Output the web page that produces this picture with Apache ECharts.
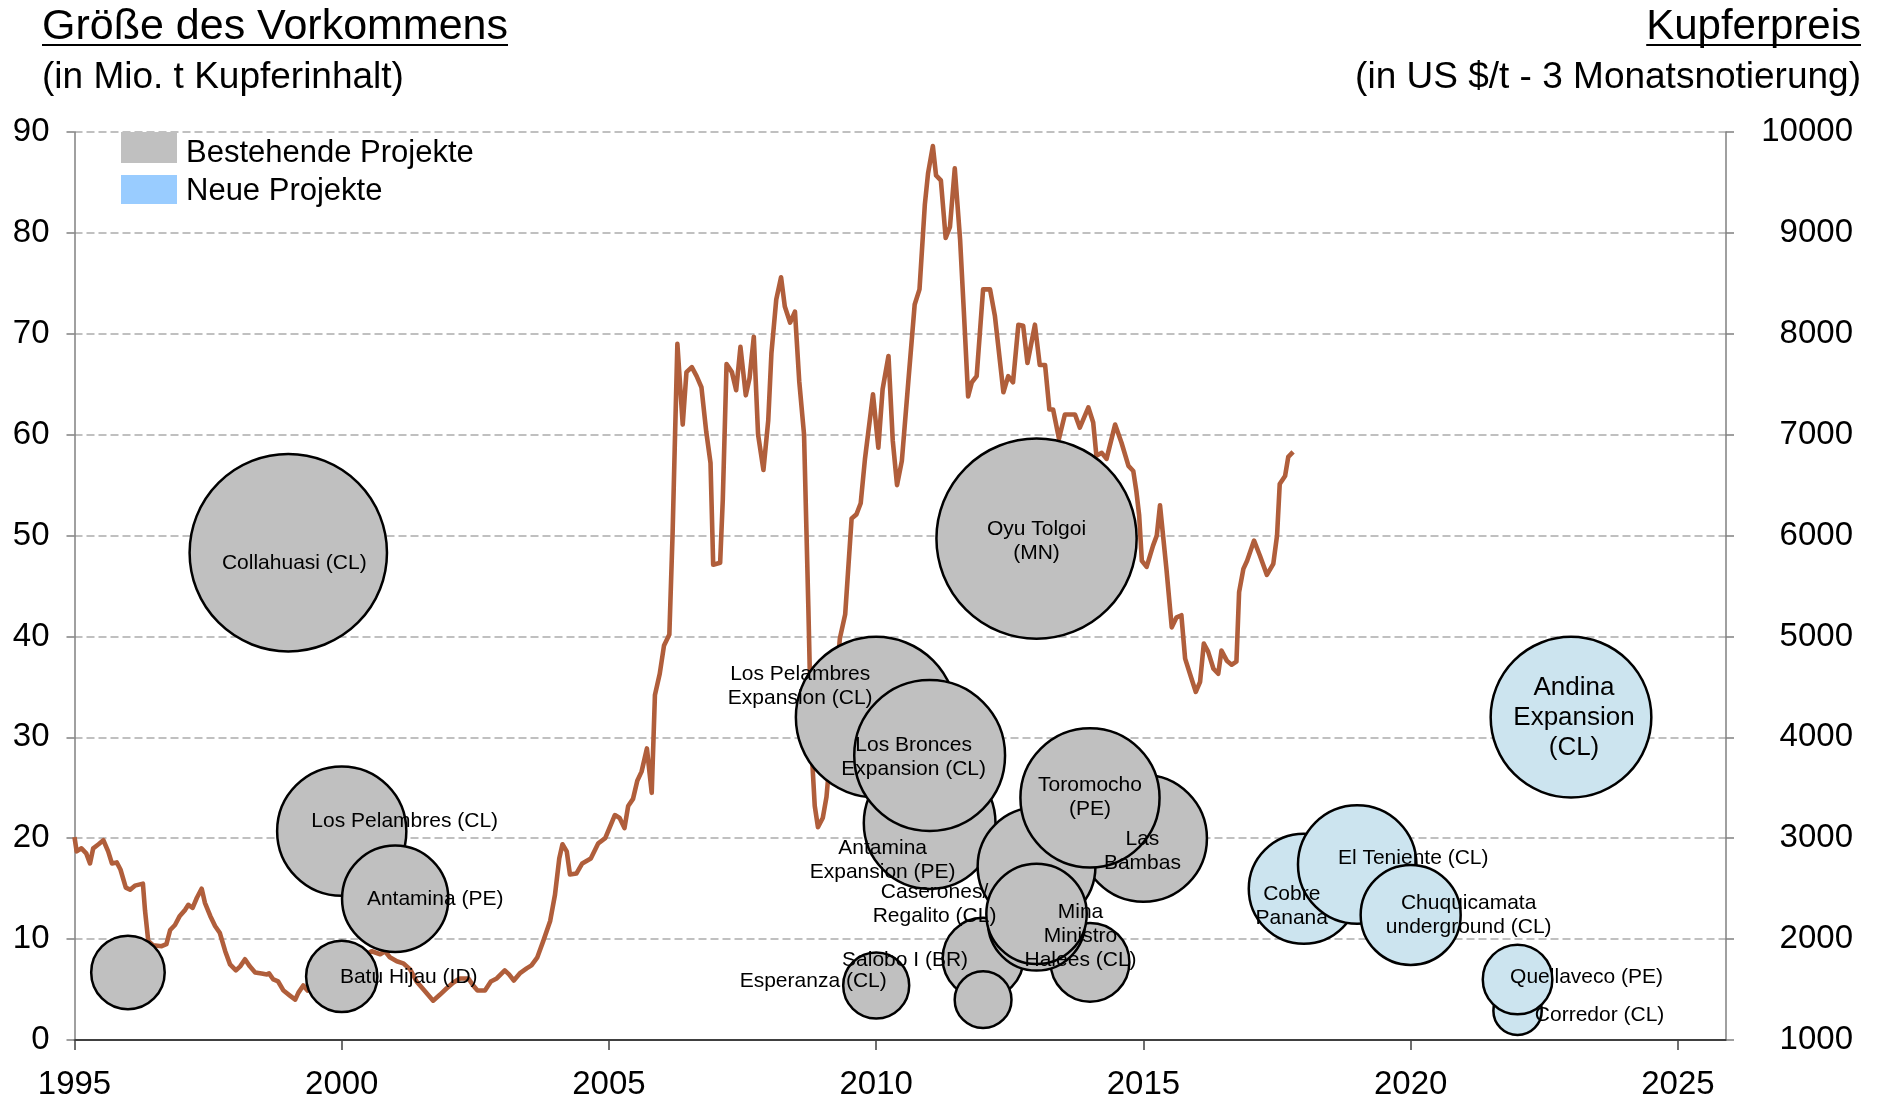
<!DOCTYPE html>
<html>
<head>
<meta charset="utf-8">
<script src="https://cdn.jsdelivr.net/npm/echarts@6/dist/echarts.min.js"></script>
<style>
  html, body { margin: 0; padding: 0; background: #fff; }
  #chart { width: 1883px; height: 1101px; }
</style>
</head>
<body>
<div id="chart"></div>
<script>
// axis ticks
const xTicks = [1995, 2000, 2005, 2010, 2015, 2020, 2025];

// existing projects: name, start year, deposit size (Mio. t Cu)
const existingNames = ['', 'Collahuasi (CL)', 'Oyu Tolgoi\n(MN)', 'Los Pelambres (CL)', 'Antamina (PE)',
  'Batu Hijau (ID)', 'Antamina\nExpansion (PE)', 'Los Pelambres\nExpansion (CL)', 'Los Bronces\nExpansion (CL)',
  'Las\nBambas', 'Caserones/\nRegalito (CL)', 'Toromocho\n(PE)', 'Esperanza (CL)', 'Salobo I (BR)', '', '', '',
  'Mina\nMinistro\nHalees (CL)'];
const existingYears = [1996, 1999, 2013, 2000, 2001, 2000, 2011, 2010, 2011, 2015, 2013, 2014, 2010, 2012, 2012, 2014, 2013, 2013];
const existingSizes = [6.7, 48.3, 49.7, 20.7, 14.0, 6.3, 21.5, 32.0, 28.2, 20.0, 17.2, 24.0, 5.4, 8.1, 4.0, 7.7, 11.7, 12.5];

// new projects
const newNames = ['Cobre\nPanana', 'El Teniente (CL)', 'Chuquicamata\nunderground (CL)', 'Andina\nExpansion\n(CL)',
  'Corredor (CL)', 'Quellaveco (PE)'];
const newYears = [2018, 2019, 2020, 2023, 2022, 2022];
const newSizes = [15.0, 17.4, 12.4, 32.0, 2.9, 6.0];

const legendNames = ['Bestehende Projekte', 'Neue Projekte'];

// copper price, US$/t (3-month), [year, price]
const copperPrice = [
  [1995.00,3010],[1995.04,2870],[1995.13,2900],[1995.22,2850],[1995.29,2750],[1995.35,2900],[1995.45,2940],[1995.54,2980],[1995.63,2870],[1995.70,2750],[1995.79,2760],[1995.86,2690],[1995.96,2510],
  [1996.04,2490],[1996.13,2530],[1996.28,2550],[1996.32,2280],[1996.38,1980],[1996.47,1940],[1996.63,1930],[1996.72,1950],[1996.79,2090],[1996.88,2140],[1996.97,2230],
  [1997.07,2290],[1997.13,2340],[1997.21,2310],[1997.29,2410],[1997.38,2500],[1997.44,2360],[1997.54,2230],[1997.63,2130],[1997.72,2060],[1997.82,1880],[1997.91,1750],
  [1998.02,1690],[1998.10,1730],[1998.19,1800],[1998.28,1730],[1998.38,1670],[1998.50,1660],[1998.60,1650],[1998.64,1660],[1998.72,1600],[1998.81,1580],[1998.91,1490],
  [1999.03,1440],[1999.13,1400],[1999.19,1470],[1999.28,1540],[1999.36,1490],[1999.55,1620],[1999.80,1780],
  [2000.05,1850],[2000.30,1800],[2000.56,1880],[2000.72,1850],[2000.81,1880],[2000.90,1820],
  [2001.03,1780],[2001.15,1760],[2001.28,1700],[2001.40,1580],[2001.53,1500],[2001.71,1390],[2001.84,1450],[2001.96,1510],
  [2002.09,1570],[2002.21,1610],[2002.37,1610],[2002.46,1540],[2002.54,1490],[2002.68,1490],[2002.79,1580],[2002.90,1610],
  [2003.05,1690],[2003.13,1650],[2003.22,1590],[2003.33,1660],[2003.46,1710],[2003.55,1740],[2003.66,1820],[2003.77,1980],[2003.90,2180],[2003.99,2440],
  [2004.07,2800],[2004.13,2940],[2004.21,2870],[2004.27,2640],[2004.39,2650],[2004.50,2750],[2004.66,2800],[2004.80,2950],[2004.93,3000],
  [2005.11,3230],[2005.20,3200],[2005.29,3100],[2005.36,3320],[2005.45,3390],[2005.53,3570],[2005.61,3660],[2005.71,3890],[2005.80,3450],[2005.86,4420],[2005.95,4630],
  [2006.03,4910],[2006.13,5020],[2006.19,6010],[2006.23,6860],[2006.28,7900],[2006.38,7100],[2006.45,7620],[2006.55,7670],[2006.64,7580],[2006.73,7470],[2006.82,7030],[2006.90,6720],[2006.95,5710],
  [2007.08,5730],[2007.13,6360],[2007.20,7700],[2007.30,7620],[2007.38,7440],[2007.46,7870],[2007.56,7390],[2007.63,7560],[2007.71,7970],[2007.79,7000],[2007.89,6650],[2007.98,7140],
  [2008.04,7810],[2008.13,8340],[2008.22,8560],[2008.29,8270],[2008.39,8110],[2008.48,8220],[2008.56,7530],[2008.65,7000],[2008.73,5300],[2008.79,3890],[2008.85,3320],[2008.91,3110],
  [2009.00,3200],[2009.07,3410],[2009.20,4200],[2009.32,4980],[2009.42,5220],[2009.54,6170],[2009.63,6210],[2009.71,6320],[2009.79,6760],[2009.94,7400],
  [2010.04,6870],[2010.12,7450],[2010.23,7780],[2010.31,6940],[2010.39,6500],[2010.48,6740],[2010.60,7520],[2010.72,8290],[2010.81,8440],[2010.91,9280],[2010.97,9590],
  [2011.06,9860],[2011.12,9570],[2011.21,9520],[2011.30,8950],[2011.38,9060],[2011.47,9640],[2011.57,8930],[2011.64,8220],[2011.72,7380],[2011.79,7520],[2011.88,7580],
  [2012.00,8440],[2012.13,8440],[2012.22,8180],[2012.38,7420],[2012.47,7580],[2012.56,7520],[2012.66,8090],[2012.75,8080],[2012.83,7710],[2012.97,8090],
  [2013.06,7690],[2013.16,7690],[2013.24,7250],[2013.31,7250],[2013.42,6960],[2013.53,7200],[2013.72,7200],[2013.81,7070],[2013.97,7270],
  [2014.06,7120],[2014.12,6790],[2014.22,6820],[2014.31,6760],[2014.47,7100],[2014.59,6920],[2014.72,6690],[2014.81,6640],[2014.87,6430],[2014.92,6200],[2014.97,5750],
  [2015.06,5690],[2015.18,5900],[2015.25,6000],[2015.31,6300],[2015.43,5670],[2015.53,5090],[2015.62,5190],[2015.71,5210],[2015.78,4780],[2015.90,4580],[2015.98,4450],
  [2016.06,4550],[2016.13,4930],[2016.21,4850],[2016.31,4680],[2016.40,4630],[2016.46,4860],[2016.56,4760],[2016.65,4720],[2016.74,4750],[2016.79,5440],[2016.87,5670],[2016.94,5750],
  [2017.07,5950],[2017.18,5800],[2017.31,5610],[2017.43,5720],[2017.50,6000],[2017.55,6510],[2017.65,6590],[2017.71,6780],[2017.80,6830]
];

// label placement (px offsets from bubble centre) and label font sizes
const existingLabelOffsets = [[0,0],[6,10],[0,3],[63,-10],[40,0],[67,1],[-47,37],[-76,-31],[-16,2],
  [-1,13],[-102,38],[0,-1],[-63,-4],[-78,2],[0,0],[0,0],[0,0],[44,22]];
const newLabelOffsets = [[-12,18],[56,-6],[58,0],[3,1],[82,4],[69,-2]];
const newLabelSizes = [21, 21, 21, 26, 21, 21];

const FONT = '"Liberation Sans", Arial, sans-serif';
const SIZE_K = 28.4; // bubble diameter per sqrt(Mio. t)
const GRAY = '#C0C0C0';
const BLUE_BUBBLE = '#CCE4EF';
const BLUE_LEGEND = '#99CCFF';

function bubbles(names, years, sizes, offsets, fontSizes) {
  return names.map((n, i) => {
    const fs = fontSizes ? fontSizes[i] : 21;
    return {
      name: n,
      value: [years[i], sizes[i]],
      label: { show: n !== '', offset: offsets[i], fontSize: fs, lineHeight: Math.round(fs * 1.15) }
    };
  });
}

function textWidth(str, size) {
  const c = document.createElement('canvas').getContext('2d');
  c.font = size + 'px ' + FONT;
  return c.measureText(str).width;
}

const chart = echarts.init(document.getElementById('chart'));

const titleL = 'Größe des Vorkommens';
const titleR = 'Kupferpreis';
const wL = textWidth(titleL, 43);
const wR = textWidth(titleR, 42);

const axisFont = { fontSize: 33, fontFamily: FONT, color: '#000' };

const option = {
  animation: false,
  grid: { left: 74.5, right: 157, top: 132, bottom: 58.6 },
  xAxis: {
    type: 'value', min: 1995, max: 2025.9, interval: 5,
    axisLine: { show: true, onZero: false, lineStyle: { color: '#404040', width: 2 } },
    axisTick: { show: true, length: 10, customValues: xTicks, lineStyle: { color: '#404040', width: 1.5 } },
    axisLabel: Object.assign({ margin: 28, customValues: xTicks,
      formatter: v => (v % 5 === 0 ? String(v) : '') }, axisFont),
    splitLine: { show: false }
  },
  yAxis: [
    {
      type: 'value', min: 0, max: 90, interval: 10, position: 'left',
      axisLine: { show: true, onZero: false, lineStyle: { color: '#808080', width: 1.5 } },
      axisTick: { show: true, length: 8, lineStyle: { color: '#808080', width: 1.5 } },
      axisLabel: Object.assign({ margin: 25 }, axisFont),
      splitLine: { show: true, lineStyle: { color: GRAY, width: 2, type: [8, 4] } }
    },
    {
      type: 'value', min: 1000, max: 10000, interval: 1000, position: 'right',
      axisLine: { show: true, onZero: false, lineStyle: { color: '#808080', width: 1.5 } },
      axisTick: { show: true, length: 8, lineStyle: { color: '#808080', width: 1.5 } },
      axisLabel: Object.assign({ margin: 127, align: 'right', formatter: v => String(v) }, axisFont),
      splitLine: { show: false }
    }
  ],
  series: [
    {
      name: 'Kupferpreis', type: 'line', yAxisIndex: 1, data: copperPrice,
      showSymbol: false, symbol: 'none', silent: true, z: 1,
      lineStyle: { color: '#B05E3B', width: 4.6, join: 'round' }
    },
    {
      name: legendNames[0], type: 'scatter', yAxisIndex: 0, z: 3,
      data: bubbles(existingNames, existingYears, existingSizes, existingLabelOffsets),
      symbolSize: v => SIZE_K * Math.sqrt(v[1]),
      itemStyle: { color: GRAY, borderColor: '#000', borderWidth: 2.5, opacity: 1 },
      label: { show: true, position: 'inside', formatter: '{b}', color: '#000', fontFamily: FONT, align: 'center' },
      emphasis: { disabled: true }
    },
    {
      name: legendNames[1], type: 'scatter', yAxisIndex: 0, z: 3,
      data: bubbles(newNames, newYears, newSizes, newLabelOffsets, newLabelSizes),
      symbolSize: v => SIZE_K * Math.sqrt(v[1]),
      itemStyle: { color: BLUE_BUBBLE, borderColor: '#000', borderWidth: 2.5, opacity: 1 },
      label: { show: true, position: 'inside', formatter: '{b}', color: '#000', fontFamily: FONT, align: 'center' },
      emphasis: { disabled: true }
    }
  ],
  graphic: [
    // titles
    { type: 'text', x: 42, y: 27, style: { text: titleL, fontSize: 43, fontFamily: FONT, fill: '#000', align: 'left', verticalAlign: 'middle' } },
    { type: 'line', shape: { x1: 42, y1: 45, x2: 42 + wL, y2: 45 }, style: { stroke: '#000', lineWidth: 2 } },
    { type: 'text', x: 42, y: 78, style: { text: '(in Mio. t Kupferinhalt)', fontSize: 37, fontFamily: FONT, fill: '#000', align: 'left', verticalAlign: 'middle' } },
    { type: 'text', x: 1861, y: 27, style: { text: titleR, fontSize: 42, fontFamily: FONT, fill: '#000', align: 'right', verticalAlign: 'middle' } },
    { type: 'line', shape: { x1: 1861 - wR, y1: 45, x2: 1861, y2: 45 }, style: { stroke: '#000', lineWidth: 2 } },
    { type: 'text', x: 1861, y: 78, style: { text: '(in US $/t - 3 Monatsnotierung)', fontSize: 37, fontFamily: FONT, fill: '#000', align: 'right', verticalAlign: 'middle' } },
    // legend
    { type: 'rect', shape: { x: 121, y: 132, width: 56, height: 31 }, style: { fill: GRAY } },
    { type: 'rect', shape: { x: 121, y: 175, width: 56, height: 29 }, style: { fill: BLUE_LEGEND } },
    { type: 'text', x: 186, y: 153, style: { text: legendNames[0], fontSize: 31, fontFamily: FONT, fill: '#000', align: 'left', verticalAlign: 'middle' } },
    { type: 'text', x: 186, y: 191, style: { text: legendNames[1], fontSize: 31, fontFamily: FONT, fill: '#000', align: 'left', verticalAlign: 'middle' } }
  ]
};

chart.setOption(option);
</script>
</body>
</html>
